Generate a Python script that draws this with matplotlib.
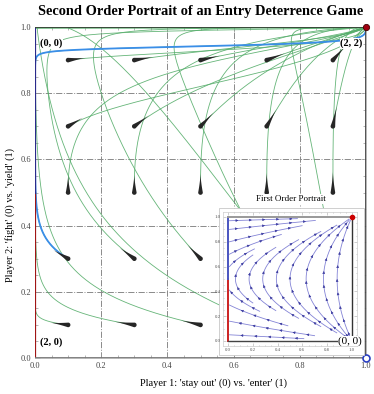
import matplotlib
matplotlib.use("Agg")
import matplotlib.pyplot as plt
import numpy as np
from matplotlib.patches import Polygon as MplPolygon, Rectangle

plt.rcParams["font.family"] = ["Liberation Serif", "DejaVu Serif"]

# payoffs of the entry deterrence game
# player 1 (entrant): rows = stay out / enter, cols = opponent fight / yield
payoff_p1 = np.array([[1.0, 1.0],
                      [0.0, 2.0]])
# player 2 (incumbent): rows = fight / yield, cols = opponent stay out / enter
payoff_p2 = np.array([[2.0, 0.0],
                      [2.0, 1.0]])

grid_starts = [0.1, 0.3, 0.5, 0.7, 0.9]
highlight_start = (0.1, 0.3)
velocity_scale = 1.5
t_end = 40.0

corner_labels = ["(0, 0)", "(2, 2)", "(2, 0)"]
corner_pos = [(0.015, 0.95), (0.955, 0.95), (0.015, 0.048)]

# first order streamlines in the inset: where they cross y = 0.5 / leave the left edge
inset_through_mid = [0.06, 0.17, 0.28, 0.39, 0.50, 0.63, 0.77, 0.88]
inset_mid_len = [0.25, 0.35, 0.45, 0.55, 0.6, 0.65, 0.6, 0.55]
inset_left_y = [0.05, 0.16, 0.29, 0.41, 0.60, 0.70, 0.80, 0.90, 0.97]
inset_left_len = [0.6, 0.7, 0.5, 0.3, 0.25, 0.45, 0.6, 0.7, 0.55]


def du1(y):
    return (payoff_p1[1, 0] * (1 - y) + payoff_p1[1, 1] * y) - (payoff_p1[0, 0] * (1 - y) + payoff_p1[0, 1] * y)


def du2(x):
    return (payoff_p2[1, 0] * (1 - x) + payoff_p2[1, 1] * x) - (payoff_p2[0, 0] * (1 - x) + payoff_p2[0, 1] * x)


def sig(z):
    return 0.5 * (1 + np.tanh(z / 2))


def first_order(x, y):
    return x * (1 - x) * du1(y), y * (1 - y) * du2(x)


def second_order_paths(x0, y0, t_end, dt=0.01):
    """second order replicator: logit coordinates accelerate with payoff difference"""
    x0 = np.asarray(x0, float)
    y0 = np.asarray(y0, float)
    s = np.stack([np.log(x0 / (1 - x0)), np.log(y0 / (1 - y0)),
                  velocity_scale * du1(y0), velocity_scale * du2(x0)])

    def f(s):
        x, y = sig(s[0]), sig(s[1])
        return np.stack([s[2], s[3], du1(y), du2(x)])

    n = int(t_end / dt)
    out = np.empty((n + 1, 2, x0.size))
    out[0] = [sig(s[0]), sig(s[1])]
    for i in range(n):
        k1 = f(s)
        k2 = f(s + 0.5 * dt * k1)
        k3 = f(s + 0.5 * dt * k2)
        k4 = f(s + dt * k3)
        s = s + dt / 6 * (k1 + 2 * k2 + 2 * k3 + k4)
        out[i + 1] = [sig(s[0]), sig(s[1])]
    return out


def trace(x0, y0, sign, smax, ds=0.004):
    """streamline of the first order field, stepped by arc length"""
    pts = [(x0, y0)]
    p = np.array([x0, y0])
    for _ in range(int(smax / ds)):
        u, v = first_order(*p)
        sp = np.hypot(u, v)
        if sp < 1e-9:
            break
        q = p + 0.5 * ds * sign * np.array([u, v]) / sp
        u, v = first_order(*q)
        sp = np.hypot(u, v)
        if sp < 1e-9:
            break
        p = p + ds * sign * np.array([u, v]) / sp
        if p[0] < 0.004 or p[1] < 0.004 or p[0] > 0.996 or p[1] > 0.996:
            break
        if np.hypot(1 - p[0], 1 - p[1]) < 0.03:
            break
        pts.append(tuple(p))
    return np.array(pts)


def draw_drop(ax, x, y, u, v, length, r=0.007):
    d = np.array([u, v]) / np.hypot(u, v)
    n = np.array([-d[1], d[0]])
    p = np.array([x, y])
    s = np.linspace(0, 1, 30)
    w = r * (1 - s) ** 1.5
    left = p + np.outer(s * length, d) + np.outer(w, n)
    right = p + np.outer(s * length, d) - np.outer(w, n)
    phi = np.arctan2(d[1], d[0])
    ang = np.linspace(phi + np.pi / 2, phi + 3 * np.pi / 2, 20)
    back = p + r * np.column_stack([np.cos(ang), np.sin(ang)])
    pts = np.vstack([left[::-1], back, right])
    ax.add_patch(MplPolygon(pts, closed=True, facecolor="#262626", edgecolor="none", zorder=5))


fig = plt.figure(figsize=(3.74, 3.94), dpi=100)
ax = fig.add_axes([35 / 374, 1 - 358 / 394, 331 / 374, 331 / 394])

gx, gy = np.meshgrid(grid_starts, grid_starts)
gx, gy = gx.ravel(), gy.ravel()
paths = second_order_paths(gx, gy, t_end)
for k in range(gx.size):
    ax.plot(paths[:, 0, k], paths[:, 1, k], color="#55ad6a", lw=0.6, alpha=0.9, zorder=3)

hp = second_order_paths([highlight_start[0]], [highlight_start[1]], t_end)
ax.plot(hp[:, 0, 0], hp[:, 1, 0], color="#3a8ee8", lw=1.3, zorder=4)

# edges of the square
ax.plot([0, 0], [0, 0.5], color="#a01515", lw=1.6, zorder=6)
ax.plot([0, 0], [0.5, 1], color="#2a2a8a", lw=1.6, zorder=6)
ax.plot([0, 1], [1, 1], color="#3a4a3a", lw=1.4, zorder=6)
ax.plot([1, 1], [0, 1], color="#444444", lw=1.3, zorder=6)
ax.plot([0, 1], [0, 0], color="#777777", lw=1.3, zorder=6)
ax.plot([1], [1], "o", ms=4.5, mfc="#a00010", mec="#400000", mew=0.6, zorder=7, clip_on=False)
ax.plot([1], [0], "o", ms=5, mfc="white", mec="#2a3fc0", mew=1.2, zorder=7, clip_on=False)

for x, y in zip(gx, gy):
    u, v = first_order(x, y)
    draw_drop(ax, x, y, u, v, 0.05 + 0.06 * np.hypot(u, v))

for lab, (x, y) in zip(corner_labels, corner_pos):
    ha = "left" if x < 0.5 else "center"
    ax.text(x, y, lab, ha=ha, va="center", fontsize=7.5, fontweight="bold", zorder=8,
            bbox=dict(facecolor="white", edgecolor="none", pad=0.3))

ax.set_xlim(0, 1)
ax.set_ylim(0, 1)
ticks = [0.0, 0.2, 0.4, 0.6, 0.8, 1.0]
ax.set_xticks(ticks)
ax.set_yticks(ticks)
ax.set_xticks(np.arange(0, 1.001, 0.05), minor=True)
ax.set_yticks(np.arange(0, 1.001, 0.05), minor=True)
ax.set_xticklabels([f"{t:.1f}" for t in ticks])
ax.set_yticklabels([f"{t:.1f}" for t in ticks])
ax.tick_params(which="both", direction="in", top=True, right=True, colors="#999999",
               labelcolor="#444444", labelsize=6, width=0.5)
ax.tick_params(which="major", length=3.5, pad=3)
ax.tick_params(which="minor", length=2)
for sp in ax.spines.values():
    sp.set_color("#aaaaaa")
    sp.set_linewidth(0.6)
for g in [0.2, 0.4, 0.6, 0.8]:
    ax.axvline(g, color="#8a8a8a", lw=0.7, ls="-.", zorder=1)
    ax.axhline(g, color="#8a8a8a", lw=0.7, ls="-.", zorder=1)

fig.text(201 / 374, 1 - 11 / 394, "Second Order Portrait of an Entry Deterrence Game",
         ha="center", va="center", fontsize=10.4, fontweight="bold")
fig.text(214 / 374, 1 - 383 / 394, "Player 1: 'stay out' (0) vs. 'enter' (1)",
         ha="center", va="center", fontsize=7.5)
fig.text(10 / 374, 1 - 215 / 394, "Player 2: 'fight' (0) vs. 'yield' (1)",
         ha="center", va="center", fontsize=7.5, rotation=90)

# inset: first order portrait
frame = Rectangle((219 / 374, 1 - 355 / 394), 145 / 374, 147 / 394, transform=fig.transFigure,
                  facecolor="white", edgecolor="#c8c8c8", lw=0.6, zorder=1)
fig.patches.append(frame)
fig.text(291 / 374, 1 - 199 / 394, "First Order Portrait", ha="center", va="center", fontsize=6.5,
         zorder=3, bbox=dict(facecolor="white", edgecolor="none", pad=0.5))

pad = 0.04
ins = fig.add_axes([(228 - pad * 124) / 374, 1 - (341 + pad * 124) / 394,
                    124 * (1 + 2 * pad) / 374, 124 * (1 + 2 * pad) / 394])
ins.set_zorder(2)
ins.patch.set_alpha(0)
starts = [(x, 0.5, L, L) for x, L in zip(inset_through_mid, inset_mid_len)]
starts += [(0.012, y, L, 0.0) if y > 0.5 else (0.012, y, 0.0, L)
           for y, L in zip(inset_left_y, inset_left_len)]
for x0, y0, s_fwd, s_bwd in starts:
    fwd = trace(x0, y0, 1, s_fwd) if s_fwd > 0 else np.array([[x0, y0]])
    bwd = trace(x0, y0, -1, s_bwd) if s_bwd > 0 else np.array([[x0, y0]])
    line = np.vstack([bwd[::-1], fwd[1:]])
    ins.plot(line[:, 0], line[:, 1], color="#8484d6", lw=0.6, zorder=3)
    seg = np.hypot(*np.diff(line, axis=0).T)
    arc = np.concatenate([[0], np.cumsum(seg)])
    for a in np.arange(0.06, arc[-1] - 0.02, 0.11):
        i = np.searchsorted(arc, a)
        j = min(i + 2, len(line) - 1)
        ins.annotate("", xy=line[j], xytext=line[i],
                     arrowprops=dict(arrowstyle="-|>", mutation_scale=3.5, color="#3c3ca0", lw=0.4),
                     zorder=4)
ins.plot([0, 0], [0, 0.5], color="#cc2222", lw=1.4, zorder=6)
ins.plot([0, 0], [0.5, 1], color="#4a55c0", lw=1.4, zorder=6)
ins.plot([0, 1], [1, 1], color="#999999", lw=1.4, zorder=6)
ins.plot([1, 1], [0, 1], color="#333333", lw=1.0, zorder=6)
ins.plot([0, 1], [0, 0], color="#444444", lw=1.0, zorder=6)
ins.plot([1], [1], "o", ms=3, mfc="#cc0000", mec="#cc0000", zorder=7, clip_on=False)
ins.text(0.985, 0.0, "(0, 0)", ha="center", va="center", fontsize=8, zorder=8,
         bbox=dict(facecolor="white", edgecolor="none", pad=0.2))
ins.set_xlim(-pad, 1 + pad)
ins.set_ylim(-pad, 1 + pad)
ins.set_xticks(ticks)
ins.set_yticks(ticks)
ins.set_xticks(np.arange(0, 1.001, 0.05), minor=True)
ins.set_yticks(np.arange(0, 1.001, 0.05), minor=True)
ins.set_xticklabels([f"{t:.1f}" for t in ticks])
ins.set_yticklabels([f"{t:.1f}" for t in ticks])
ins.tick_params(which="both", direction="in", top=True, right=True, colors="#aaaaaa",
                labelcolor="#555555", labelsize=3.5, width=0.4, pad=1.5)
ins.tick_params(which="major", length=2)
ins.tick_params(which="minor", length=1)
for sp in ins.spines.values():
    sp.set_color("#cccccc")
    sp.set_linewidth(0.5)

fig.savefig("out.png", dpi=100)
